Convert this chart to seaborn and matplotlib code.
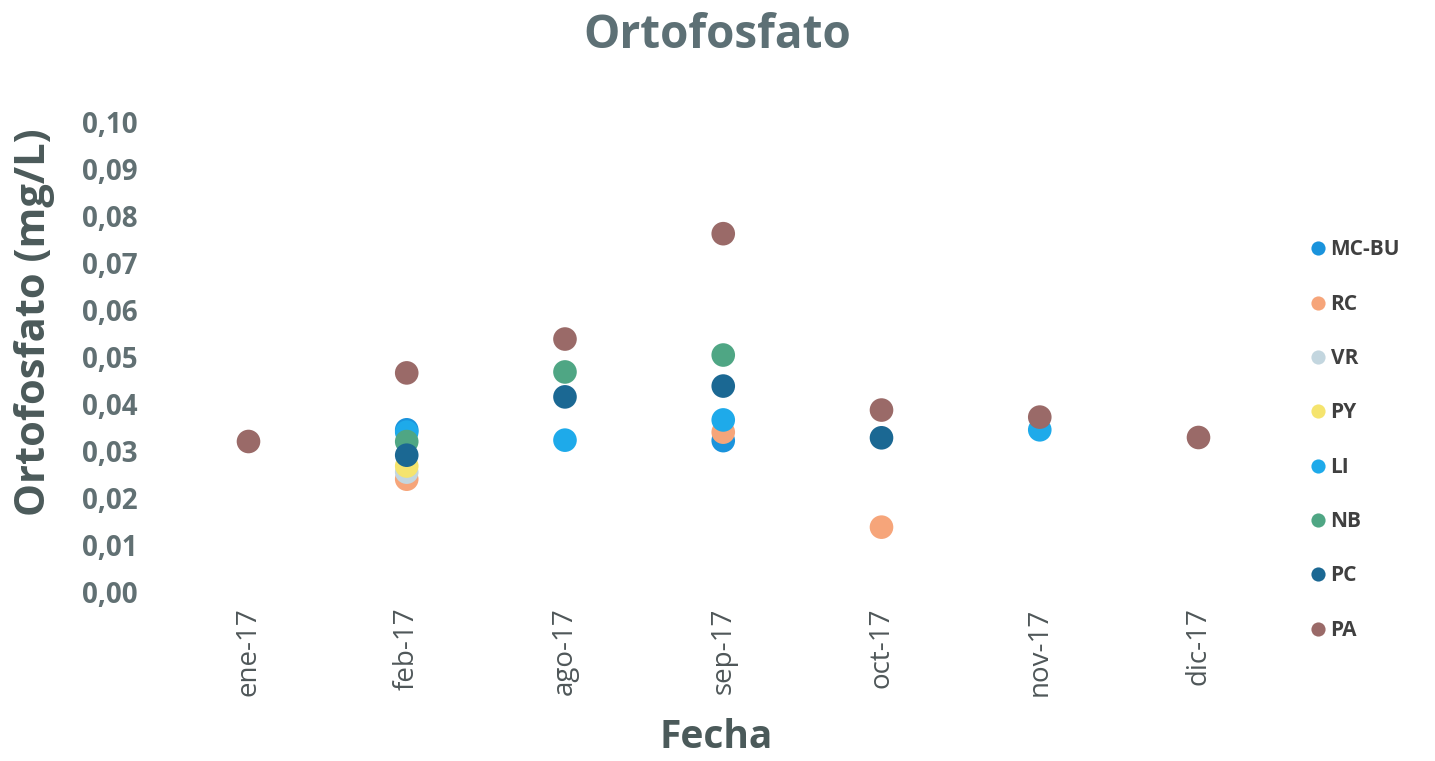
import numpy as np
import pandas as pd
import matplotlib
matplotlib.use("Agg")
import matplotlib.pyplot as plt
import seaborn as sns

fechas = ["ene-17", "feb-17", "ago-17", "sep-17", "oct-17", "nov-17", "dic-17"]
nan = np.nan
MC_BU = [nan, 0.0345, nan, 0.0322, nan, nan, nan]
RC    = [nan, 0.0240, nan, 0.0340, 0.0138, nan, nan]
VR    = [nan, 0.0255, nan, nan, nan, nan, nan]
PY    = [nan, 0.0268, nan, nan, nan, nan, nan]
LI    = [nan, 0.0340, 0.0323, 0.0366, nan, 0.0345, nan]
NB    = [nan, 0.0320, 0.0468, 0.0504, nan, nan, nan]
PC    = [nan, 0.0291, 0.0415, 0.0438, 0.0328, nan, nan]
PA    = [0.0321, 0.0466, 0.0538, 0.0762, 0.0387, 0.0372, 0.0330]

series_names = ["MC-BU", "RC", "VR", "PY", "LI", "NB", "PC", "PA"]
series_vals = [MC_BU, RC, VR, PY, LI, NB, PC, PA]
colors = ["#1a93dc", "#f6a57a", "#c3d6df", "#f5e46e", "#1eaaea", "#4fa684", "#1b6893", "#9a6a68"]

y_ticks = [0.00, 0.01, 0.02, 0.03, 0.04, 0.05, 0.06, 0.07, 0.08, 0.09, 0.10]
y_tick_labels = ["0,00", "0,01", "0,02", "0,03", "0,04", "0,05", "0,06", "0,07", "0,08", "0,09", "0,10"]

rows = []
for name, vals in zip(series_names, series_vals):
    for f, v in zip(fechas, vals):
        rows.append({"Fecha": f, "valor": v, "serie": name})
df = pd.DataFrame(rows)

sns.set_theme(style="white")
plt.rcParams['font.family'] = ['Open Sans', 'DejaVu Sans']

fig = plt.figure(figsize=(14.35, 7.61), dpi=100)
ax = fig.add_axes([0.118, 0.222, 0.772, 0.618])

sns.stripplot(data=df.dropna(), x="Fecha", y="valor", hue="serie",
              order=fechas, hue_order=series_names,
              palette=dict(zip(series_names, colors)),
              jitter=False, dodge=False, size=17, linewidth=0, ax=ax)

ax.set_xlim(-0.5, len(fechas) - 0.5)
ax.set_ylim(0, 0.10)
ax.set_yticks(y_ticks)
ax.set_yticklabels(y_tick_labels, fontsize=20, color="#617073", fontweight="bold")
ax.set_xticks(range(len(fechas)))
ax.set_xticklabels(fechas, rotation=90, fontsize=20, color="#4f5759")
ax.tick_params(axis="y", length=0, pad=23)
ax.tick_params(axis="x", length=0, pad=11)
for s in ax.spines.values():
    s.set_visible(False)
ax.grid(False)

ax.set_ylabel("Ortofosfato (mg/L)", fontsize=30, fontweight="bold", color="#4b5a5a")
ax.yaxis.label.set_va("center")
ax.yaxis.set_label_coords(-0.122, 0.574)
ax.set_xlabel("Fecha", fontsize=28, fontweight="bold", color="#4b5a5a")
ax.xaxis.label.set_va("center")
ax.xaxis.set_label_coords(0.494, -0.31)
fig.text(0.5, 1 - 35 / 761, "Ortofosfato", ha="center", va="center",
         fontsize=33, fontweight="bold", color="#5d7075")

leg = ax.legend(loc="center left", bbox_to_anchor=(1.02, 0.323), frameon=False,
                fontsize=15, labelspacing=1.6, handletextpad=0.1, handlelength=1.0,
                markerscale=0.6, borderaxespad=0)
for t in leg.get_texts():
    t.set_color("#404040")
    t.set_fontweight("bold")

fig.savefig("out.png", dpi=100)
